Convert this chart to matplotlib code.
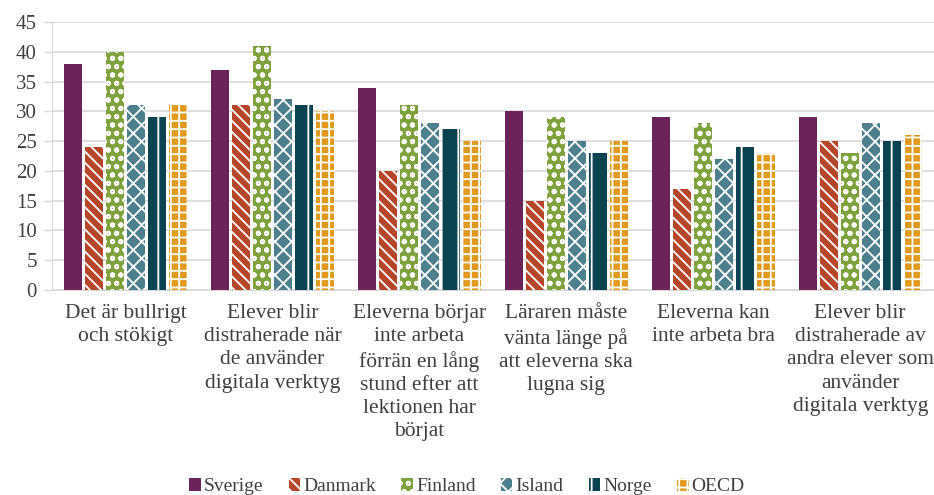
import matplotlib.pyplot as plt
import numpy as np

plt.rcParams['font.family'] = ['Liberation Serif', 'DejaVu Serif']
plt.rcParams['hatch.linewidth'] = 1.3

categories = [
    "Det är bullrigt\noch stökigt",
    "Elever blir\ndistraherade när\nde använder\ndigitala verktyg",
    "Eleverna börjar\ninte arbeta\nförrän en lång\nstund efter att\nlektionen har\nbörjat",
    "Läraren måste\nvänta länge på\natt eleverna ska\nlugna sig",
    "Eleverna kan\ninte arbeta bra",
    "Elever blir\ndistraherade av\nandra elever som\nanvänder\ndigitala verktyg",
]
countries = ["Sverige", "Danmark", "Finland", "Island", "Norge", "OECD"]
sverige = [38, 37, 34, 30, 29, 29]
danmark = [24, 31, 20, 15, 17, 25]
finland = [40, 41, 31, 29, 28, 23]
island = [31, 32, 28, 25, 22, 28]
norge = [29, 31, 27, 23, 24, 25]
oecd = [31, 30, 25, 25, 23, 26]

series = [sverige, danmark, finland, island, norge, oecd]
colors = ["#6B2459", "#B5462A", "#7FA23C", "#4E7F8C", "#0B4450", "#E09A1E"]
hatches = [None, "\\\\\\", "oo", "xx", "|", "++"]

fig = plt.figure(figsize=(9.34, 4.95), dpi=100)
ax = fig.add_axes([0.0557, 0.414, 0.944, 0.5416])

x = np.arange(len(categories))
step = 0.143
width = 0.122
for i, (vals, name) in enumerate(zip(series, countries)):
    pos = x + (i - 2.5) * step
    if hatches[i] is None:
        ax.bar(pos, vals, width, color=colors[i], label=name, zorder=3)
    else:
        ax.bar(pos, vals, width, color=colors[i], edgecolor="white",
               linewidth=0, hatch=hatches[i], label=name, zorder=3)

ax.set_xlim(-0.5, 5.5)
ax.set_ylim(0, 45)
ax.set_yticks(range(0, 46, 5))
ax.set_xticks(x)
ax.set_xticklabels(categories, fontsize=15.5, color="#404040", va="top",
                   linespacing=1.3)
ax.tick_params(axis='x', length=0, pad=10)
ax.tick_params(axis='y', labelsize=15, labelcolor="#404040", color="#D9D9D9",
               length=6, width=1, pad=5)
ax.grid(axis='y', color="#D9D9D9", linewidth=1.2, zorder=0)
for s in ["top", "right"]:
    ax.spines[s].set_visible(False)
ax.spines["left"].set_color("#D9D9D9")
ax.spines["bottom"].set_color("#D9D9D9")

fig.legend(loc="lower center", bbox_to_anchor=(0.5, -0.036), ncol=6,
           frameon=False, fontsize=14, handlelength=0.6, handleheight=0.6,
           handletextpad=0.15, columnspacing=1.3, labelcolor="#404040")

fig.savefig("out.png", dpi=100)
